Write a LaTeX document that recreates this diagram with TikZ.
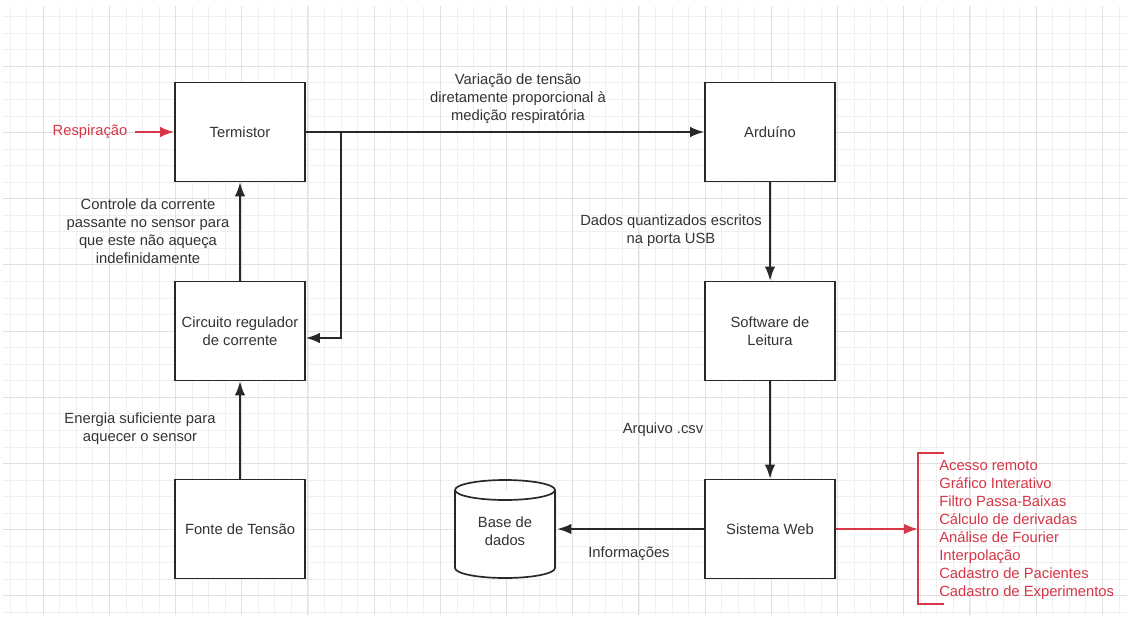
\documentclass[tikz,border=0pt]{standalone}
\usepackage{fontspec}
\setmainfont{Liberation Sans}
\usetikzlibrary{positioning,arrows.meta}
\definecolor{gridMinor}{RGB}{240,240,240}
\definecolor{gridMajor}{RGB}{224,224,224}
\definecolor{lineDark}{RGB}{40,40,40}
\definecolor{textDark}{RGB}{51,51,51}
\definecolor{listRed}{RGB}{214,54,70}
\tikzset{
	block/.style={draw=lineDark,line width=1.2pt,fill=white,minimum width=3.25cm,minimum height=2.475cm,align=center,text=textDark,font=\fontsize{10.5}{12.8}\selectfont},
	label/.style={align=center,text=textDark,font=\fontsize{10.5}{12.8}\selectfont},
	flow/.style={draw=lineDark,line width=1.2pt,-{Latex[length=0.35cm,width=0.26cm]}},
	redflow/.style={draw=listRed,line width=1.2pt,-{Latex[length=0.35cm,width=0.26cm]}}
}
\begin{document}
\begin{tikzpicture}[x=0.025cm,y=-0.025cm]
	\useasboundingbox (0,0) rectangle (1130,619);
	\fill[white] (0,0) rectangle (1130,619);
		\foreach \n in {0,...,67}
		\draw[gridMinor,line width=0.5pt] ({10+16.55*\n},6) -- ({10+16.55*\n},615);
		\foreach \n in {1,...,37}
		\draw[gridMinor,line width=0.5pt] (3,{16.55*\n}) -- (1127,{16.55*\n});
		\foreach \n in {2,6,...,66}
		\draw[gridMajor,line width=0.6pt] ({10+16.55*\n},6) -- ({10+16.55*\n},615);
		\foreach \n in {4,8,...,36}
		\draw[gridMajor,line width=0.6pt] (3,{16.55*\n}) -- (1127,{16.55*\n});

		\node[block] (Termistor) at (240,132) {Termistor};
		\node[block] (Circuito) at (240,331) {Circuito regulador\\de corrente};
		\node[block] (Fonte) at (240,529) {Fonte de Tensão};
		\node[block] (Arduino) at (770,132) {Arduíno};
		\node[block] (Software) at (770,331) {Software de\\Leitura};
		\node[block] (SistemaWeb) at (770,529) {Sistema Web};
		\node[label,minimum width=2.5cm,minimum height=2.45cm] (BaseDados) at (505,529) {};
		\draw[draw=lineDark,line width=1.2pt,fill=white] (455,490) -- (455,568)
			arc[start angle=180,end angle=360,x radius=1.25cm,y radius=0.25cm] -- (555,490);
		\draw[draw=lineDark,line width=1.2pt] (455,490)
			arc[start angle=180,end angle=-180,x radius=1.25cm,y radius=0.25cm];
		\node[label] at (505,531) {Base de\\dados};

		\node[label,text=listRed] (Respiracao) at (90,132) {Respiração};
		\coordinate (RespInicio) at (135,132);
		\draw[redflow] (RespInicio) -- (Termistor.west);

		\coordinate (Ramo) at (341,132);
		\draw[flow] (Termistor.east) -- (Arduino.west);
		\draw[flow] (Ramo) |- ([yshift=-0.175cm]Circuito.east);
		\draw[flow] (Circuito.north) -- (Termistor.south);
		\draw[flow] (Fonte.north) -- (Circuito.south);
		\draw[flow] (Arduino.south) -- (Software.north);
		\draw[flow] (Software.south) -- (SistemaWeb.north);
		\draw[flow] (SistemaWeb.west) -- ([xshift=0.05cm]BaseDados.east);

		\node[label] (LblVariacao) at (518,99) {Variação de tensão\\diretamente proporcional à\\medição respiratória};
		\node[label] (LblControle) at (148,231) {Controle da corrente\\passante no sensor para\\que este não aqueça\\indefinidamente};
		\node[label] (LblEnergia) at (140,429) {Energia suficiente para\\aquecer o sensor};
		\node[label] (LblDados) at (671,231) {Dados quantizados escritos\\na porta USB};
		\node[label] (LblArquivo) at (663,430) {Arquivo .csv};
		\node[label] (LblInfo) at (629,554) {Informações};

		\coordinate (ChaveMeio) at (918,529);
		\coordinate (ChaveTopo) at (918,453);
		\coordinate (ChaveBase) at (918,604);
		\draw[redflow] (SistemaWeb.east) -- (ChaveMeio);
		\draw[draw=listRed,line width=1.2pt] ([xshift=0.65cm]ChaveTopo) -- (ChaveTopo) -- (ChaveBase) -- ([xshift=0.65cm]ChaveBase);
		\node[label,text=listRed,align=left,anchor=west,inner sep=0pt] (Funcoes) at (939,530)
			{Acesso remoto\\Gráfico Interativo\\Filtro Passa-Baixas\\Cálculo de derivadas\\Análise de Fourier\\Interpolação\\Cadastro de Pacientes\\Cadastro de Experimentos};
\end{tikzpicture}
\end{document}
